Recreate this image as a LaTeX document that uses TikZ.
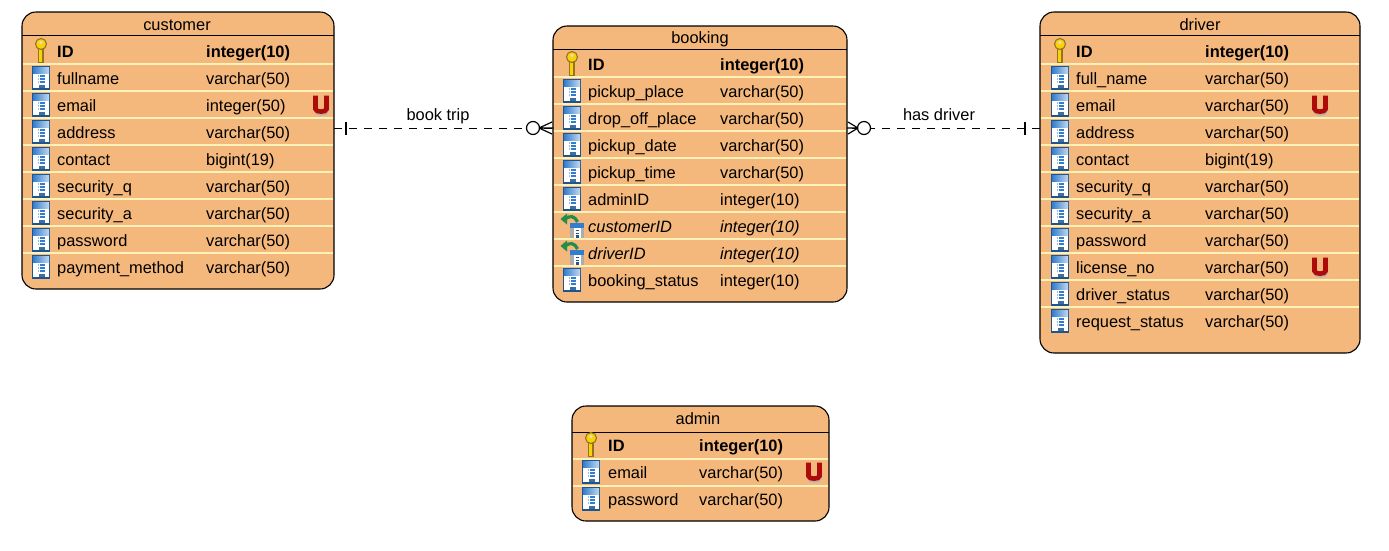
\documentclass[tikz,border=0pt]{standalone}
\usepackage{fontspec}
\setmainfont{Liberation Sans}
\definecolor{boxfill}{RGB}{244,183,124}
\definecolor{rowline}{RGB}{255,242,184}
\definecolor{colblue}{RGB}{30,85,145}
\definecolor{bandblue}{RGB}{50,125,205}
\definecolor{keygold}{RGB}{248,210,10}
\definecolor{keyedge}{RGB}{150,115,30}
\definecolor{uniqred}{RGB}{175,10,10}
\definecolor{fkgreen}{RGB}{35,140,70}
\tikzset{
  tablebox/.style={draw=black, line width=1.1pt, fill=boxfill, rounded corners=14pt, inner sep=0pt, outer sep=0pt},
  titletext/.style={inner sep=0pt, anchor=base},
  celltext/.style={inner sep=0pt, anchor=base west},
  relline/.style={line width=1pt, dash pattern=on 8pt off 7pt},
  relmark/.style={line width=1.2pt},
  pics/colicon/.style={code={
    \draw [colblue, line width=1.2pt, fill=white] (-8.5,-11) rectangle (8.5,11);
    \shade [left color=bandblue, right color=bandblue!30] (-8,-10.5) rectangle (8,-5);
    \foreach \d in {-2,1,4} \draw [bandblue, line width=1.2pt] (-1.5,\d) -- (3.5,\d);
    \foreach \d in {-2,1,4} \draw [bandblue!50, line width=1.2pt] (-3.5,\d) -- (-2.5,\d);
    \fill [colblue!85] (-2,6.5) rectangle (3.5,9.5);
  }},
  pics/keyicon/.style={code={
    \fill [keyedge] (-2.8,-4) rectangle (2.8,12);
    \fill [keygold] (-1.6,-4) rectangle (1.2,10.5);
    \draw [keyedge, fill=keygold, line width=1.1pt] (0,-7) circle [x radius=5.5, y radius=5.5];
    \fill [white!75!keyedge] (0,-8.5) circle [radius=1.8];
  }},
  pics/fkicon/.style={code={
    \fill [gray!65] (-2,-3) rectangle (12,12);
    \fill [bandblue] (-2,-3) rectangle (12,1.5);
    \fill [white] (1.5,2) rectangle (8.5,12);
    \foreach \d in {4,7} \draw [colblue, line width=1pt] (3.5,\d) -- (6.5,\d);
    \fill [colblue] (3.5,9) rectangle (6.5,12);
    \draw [fkgreen, line width=3.2pt] (-7,-7) .. controls (-2,-11) and (3,-10) .. (5.5,-4);
    \fill [fkgreen] (-11.5,-7) -- (-5,-12.5) -- (-5,-1.5) -- cycle;
  }},
  pics/uicon/.style={code={
    \draw [black!30, line width=4.4pt] (-5,-7.5) -- (-5,5) .. controls (-5,9.5) and (6,9.5) .. (6,5) -- (6,-7.5);
    \draw [uniqred, line width=4.6pt] (-5.5,-9.5) -- (-5.5,4) .. controls (-5.5,7.5) and (5.5,7.5) .. (5.5,4) -- (5.5,-9.5);
  }},
}
\begin{document}
\begin{tikzpicture}[x=1pt,y=-1pt,font=\fontsize{16.4}{20}\selectfont]
\useasboundingbox (0,0) rectangle (1389,550);

% customer
\node (customer) [tablebox, minimum width=312pt, minimum height=277pt] at (178,150.5) {};
\draw [line width=0.9pt] (22,35) -- (334,35);
\foreach \y in {64,91,...,253} \draw [rowline, line width=1.2pt] (22.6,\y) -- (333.4,\y);
\node (customertitle) [titletext] at (177,30) {customer};
\pic at (41,51) {keyicon};
\node (customerid) [celltext] at (57,57) {\bfseries ID};
\node (customeridtype) [celltext] at (206,57) {\bfseries integer(10)};
\foreach \nm/\ty [count=\i from 1, evaluate=\i as \y using 51+27*\i] in
  {fullname/varchar(50), email/integer(50), address/varchar(50), contact/bigint(19),
   security\_q/varchar(50), security\_a/varchar(50), password/varchar(50), payment\_method/varchar(50)}{
  \pic at (41,\y) {colicon};
  \node (customer\i) [celltext] at (57,\y+6) {\nm};
  \node (customertype\i) [celltext] at (206,\y+6) {\ty};
}
\pic at (321,105) {uicon};

% booking
\node (booking) [tablebox, minimum width=294pt, minimum height=276pt] at (700,164) {};
\draw [line width=0.9pt] (553,49) -- (847,49);
\foreach \y in {77,104,...,267} \draw [rowline, line width=1.2pt] (553.6,\y) -- (846.4,\y);
\node (bookingtitle) [titletext] at (700,43) {booking};
\pic at (572,64) {keyicon};
\node (bookingid) [celltext] at (588,70) {\bfseries ID};
\node (bookingidtype) [celltext] at (720,70) {\bfseries integer(10)};
\foreach \nm/\ty [count=\i from 1, evaluate=\i as \y using 64+27*\i] in
  {pickup\_place/varchar(50), drop\_off\_place/varchar(50), pickup\_date/varchar(50),
   pickup\_time/varchar(50), adminID/integer(10)}{
  \pic at (572,\y) {colicon};
  \node (booking\i) [celltext] at (588,\y+6) {\nm};
  \node (bookingtype\i) [celltext] at (720,\y+6) {\ty};
}
\pic at (572,226) {fkicon};
\node (bookingcust) [celltext] at (588,232) {\itshape customerID};
\node (bookingcusttype) [celltext] at (720,232) {\itshape integer(10)};
\pic at (572,253) {fkicon};
\node (bookingdrv) [celltext] at (588,259) {\itshape driverID};
\node (bookingdrvtype) [celltext] at (720,259) {\itshape integer(10)};
\pic at (572,280) {colicon};
\node (bookingstatus) [celltext] at (588,286) {booking\_status};
\node (bookingstatustype) [celltext] at (720,286) {integer(10)};

% driver
\node (driver) [tablebox, minimum width=320pt, minimum height=341pt] at (1200,182.5) {};
\draw [line width=0.9pt] (1040,35) -- (1360,35);
\foreach \y in {64,91,...,307} \draw [rowline, line width=1.2pt] (1040.6,\y) -- (1359.4,\y);
\node (drivertitle) [titletext] at (1200,30) {driver};
\pic at (1060,51) {keyicon};
\node (driverid) [celltext] at (1076,57) {\bfseries ID};
\node (driveridtype) [celltext] at (1205,57) {\bfseries integer(10)};
\foreach \nm/\ty [count=\i from 1, evaluate=\i as \y using 51+27*\i] in
  {full\_name/varchar(50), email/varchar(50), address/varchar(50), contact/bigint(19),
   security\_q/varchar(50), security\_a/varchar(50), password/varchar(50), license\_no/varchar(50),
   driver\_status/varchar(50), request\_status/varchar(50)}{
  \pic at (1060,\y) {colicon};
  \node (driver\i) [celltext] at (1076,\y+6) {\nm};
  \node (drivertype\i) [celltext] at (1205,\y+6) {\ty};
}
\pic at (1320,105) {uicon};
\pic at (1320,267) {uicon};

% admin
\node (admin) [tablebox, minimum width=257pt, minimum height=115pt] at (700.5,463.5) {};
\draw [line width=0.9pt] (572,432) -- (829,432);
\foreach \y in {459,486} \draw [rowline, line width=1.2pt] (572.6,\y) -- (828.4,\y);
\node (admintitle) [titletext] at (698,424) {admin};
\pic at (591,445) {keyicon};
\node (adminid) [celltext] at (608,451) {\bfseries ID};
\node (adminidtype) [celltext] at (699,451) {\bfseries integer(10)};
\foreach \nm/\ty [count=\i from 1, evaluate=\i as \y using 445+27*\i] in
  {email/varchar(50), password/varchar(50)}{
  \pic at (591,\y) {colicon};
  \node (admin\i) [celltext] at (608,\y+6) {\nm};
  \node (admintype\i) [celltext] at (699,\y+6) {\ty};
}
\pic at (814,472) {uicon};

% book trip
\coordinate (tripa) at (customer.east |- 0,128);
\coordinate (tripb) at (booking.west |- 0,128);
\draw [relline] (tripa) -- (tripb);
\draw [relmark] (346,122) -- (346,135);
\draw [relmark, fill=white] (533,128) circle [radius=6.5];
\draw [relmark] (539,128) -- (tripb) (539,128) -- (552,122) (539,128) -- (552,134);
\node (triplabel) [titletext] at (438,120) {book trip};

% has driver
\coordinate (drva) at (booking.east |- 0,128);
\coordinate (drvb) at (driver.west |- 0,128);
\draw [relline] (drvb) -- (drva);
\draw [relmark] (1025,122) -- (1025,135);
\draw [relmark, fill=white] (864,128) circle [radius=6.5];
\draw [relmark] (858,128) -- (drva) (858,128) -- (848,122) (858,128) -- (848,134);
\node (drvlabel) [titletext] at (939,120) {has driver};
\end{tikzpicture}
\end{document}
